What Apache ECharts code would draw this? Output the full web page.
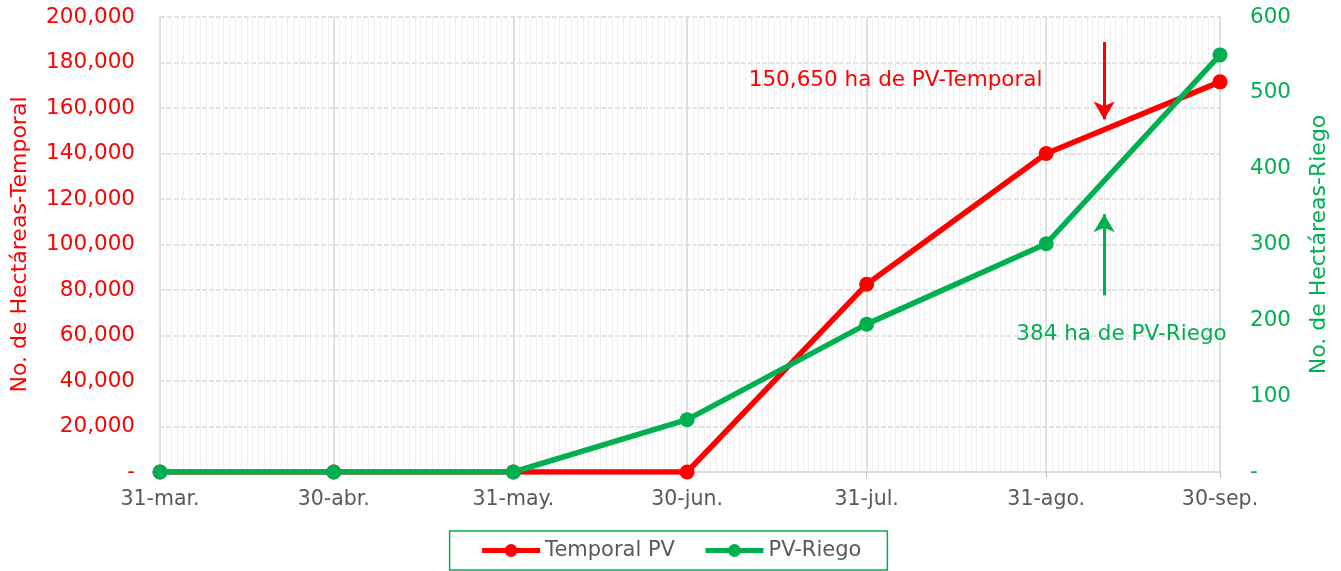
<!DOCTYPE html>
<html><head><meta charset="utf-8">
<script src="https://cdn.jsdelivr.net/npm/echarts@6/dist/echarts.min.js"></script>
<style>html,body{margin:0;padding:0;background:#fff}#c{width:1341px;height:571px}</style>
</head><body><div id="c"></div>
<script>
const dates = ['31-mar.', '30-abr.', '31-may.', '30-jun.', '31-jul.', '31-ago.', '30-sep.'];
const temporalPV = [0, 0, 0, 0, 82500, 140000, 171500];
const pvRiego = [0, 0, 0, 69, 195, 301, 550];
const leftTicks = { min: 0, max: 200000, interval: 20000 };
const rightTicks = { min: 0, max: 600, interval: 100 };
const monthNames = ['ene.','feb.','mar.','abr.','may.','jun.','jul.','ago.','sep.','oct.','nov.','dic.'];

// daily category list between first and last date
const days = [];
{
  const start = Date.UTC(2021, 2, 31), end = Date.UTC(2021, 8, 30);
  for (let t = start; t <= end; t += 86400000) {
    const d = new Date(t);
    days.push(d.getUTCDate() + '-' + monthNames[d.getUTCMonth()]);
  }
}
const isMajor = (i, v) => dates.indexOf(days[i]) >= 0;
const FONT = "'DejaVu Sans', 'Noto Sans', sans-serif";
const RED = '#ff0000', GREEN = '#00b050';

const chart = echarts.init(document.getElementById('c'));
chart.setOption({
  animation: false,
  textStyle: { fontFamily: FONT },
  grid: { left: 160, right: 121, top: 17, bottom: 99, outerBoundsMode: 'none', containLabel: false },
  legend: {
    bottom: 1, left: 'center',
    itemGap: 28, itemWidth: 58, itemHeight: 16,
    padding: [9, 26, 9, 30],
    borderColor: GREEN, borderWidth: 1.5,
    lineStyle: { width: 5 },
    textStyle: { fontSize: 21, color: '#595959', fontFamily: FONT },
    data: ['Temporal PV', 'PV-Riego']
  },
  xAxis: [
    {
      type: 'category', data: days, boundaryGap: false, position: 'bottom',
      axisLine: { show: false }, axisTick: { show: false }, axisLabel: { show: false },
      splitLine: { show: true, interval: 0, lineStyle: { color: '#efefef', width: 1 } }
    },
    {
      type: 'category', data: days, boundaryGap: false, position: 'bottom',
      axisLine: { show: true, lineStyle: { color: '#d9d9d9', width: 1.5 } },
      axisTick: { show: true, interval: isMajor, length: 6, lineStyle: { color: '#bfbfbf' } },
      axisLabel: { interval: isMajor, color: '#595959', fontSize: 20.5, margin: 17, fontFamily: FONT },
      splitLine: { show: true, interval: isMajor, lineStyle: { color: '#d9d9d9', width: 1.5 } }
    }
  ],
  yAxis: [
    {
      type: 'value', min: leftTicks.min, max: leftTicks.max, interval: leftTicks.interval,
      name: 'No. de Hectáreas-Temporal', nameLocation: 'middle', nameGap: 129, nameRotate: 90,
      nameTextStyle: { color: RED, fontSize: 22, fontFamily: FONT },
      axisLine: { show: false }, axisTick: { show: false },
      axisLabel: { color: RED, fontSize: 21.5, margin: 25, fontFamily: FONT,
        formatter: v => v === 0 ? '-' : v.toLocaleString('en-US') },
      splitLine: { show: true, lineStyle: { color: '#d9d9d9', width: 1.5, type: [5, 2] } }
    },
    {
      type: 'value', min: rightTicks.min, max: rightTicks.max, interval: rightTicks.interval,
      name: 'No. de Hectáreas-Riego', nameLocation: 'middle', nameGap: 88, nameRotate: 90,
      nameTextStyle: { color: GREEN, fontSize: 22, fontFamily: FONT },
      axisLine: { show: false }, axisTick: { show: false },
      axisLabel: { color: GREEN, fontSize: 21.5, margin: 30, fontFamily: FONT,
        formatter: v => v === 0 ? '-' : String(v) },
      splitLine: { show: false }
    }
  ],
  series: [
    {
      name: 'Temporal PV', type: 'line', xAxisIndex: 1, yAxisIndex: 0,
      data: dates.map((d, i) => [d, temporalPV[i]]),
      symbol: 'circle', symbolSize: 15, z: 3,
      lineStyle: { color: RED, width: 5.5 }, itemStyle: { color: RED },
      markLine: {
        silent: true, symbol: ['none', 'arrow'], symbolSize: [16, 18],
        lineStyle: { color: RED, width: 3, type: 'solid' }, label: { show: false },
        data: [[{ coord: ['10-sep.', 189000] }, { coord: ['10-sep.', 155000] }]]
      },
      markPoint: {
        silent: true, symbol: 'circle', symbolSize: 1, itemStyle: { color: 'rgba(0,0,0,0)' },
        label: { show: true, position: 'inside', color: RED, fontSize: 21.5, fontFamily: FONT,
          formatter: '150,650 ha de PV-Temporal' },
        data: [{ coord: ['5-ago.', 172000] }]
      }
    },
    {
      name: 'PV-Riego', type: 'line', xAxisIndex: 1, yAxisIndex: 1,
      data: dates.map((d, i) => [d, pvRiego[i]]),
      symbol: 'circle', symbolSize: 15, z: 4,
      lineStyle: { color: GREEN, width: 5.5 }, itemStyle: { color: GREEN },
      markLine: {
        silent: true, symbol: ['none', 'arrow'], symbolSize: [16, 18],
        lineStyle: { color: GREEN, width: 3, type: 'solid' }, label: { show: false },
        data: [[{ coord: ['10-sep.', 233] }, { coord: ['10-sep.', 340] }]]
      },
      markPoint: {
        silent: true, symbol: 'circle', symbolSize: 1, itemStyle: { color: 'rgba(0,0,0,0)' },
        label: { show: true, position: 'inside', color: GREEN, fontSize: 21.5, fontFamily: FONT,
          formatter: '384 ha de PV-Riego' },
        data: [{ coord: ['13-sep.', 182] }]
      }
    }
  ]
});
</script></body></html>
